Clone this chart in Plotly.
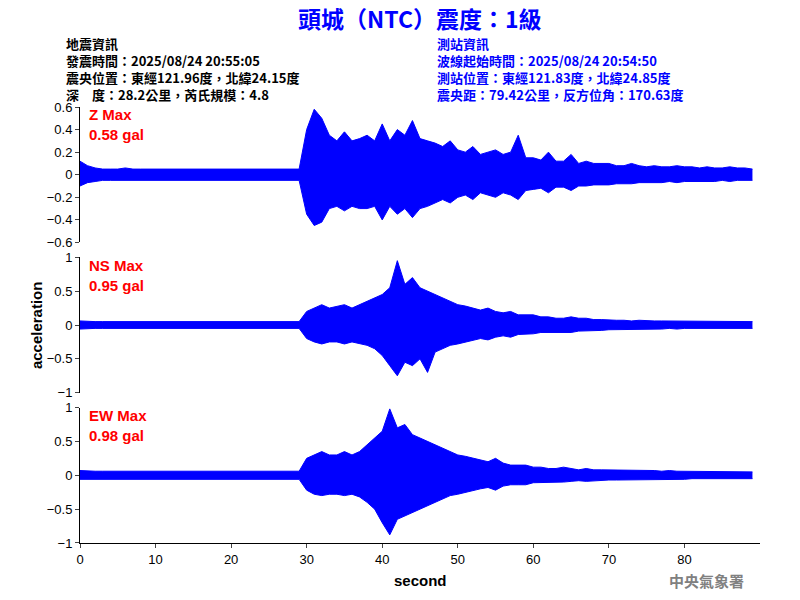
import plotly.graph_objects as go
from plotly.subplots import make_subplots

# envelope of each trace, one value per second (0..89 s)
seconds = list(range(90))
quiet = [0.05] * 20
z_up = [.12, .08, .06, .05, .05, .05, .06, .05, .05, .05] + quiet + \
       [.40, .58, .50, .35, .30, .38, .30, .32, .35, .30,
        .45, .30, .40, .35, .48, .32, .30, .28, .25, .30,
        .22, .20, .25, .18, .20, .22, .18, .20, .35, .15,
        .15, .13, .20, .12, .12, .18, .10, .12, .10, .10,
        .10, .08, .08, .10, .08, .07, .08, .07, .07, .08,
        .07, .07, .06, .07, .06, .06, .07, .06, .06, .05]
z_lo = [.10, .07, .06, .05, .05, .05, .05, .05, .05, .05] + quiet + \
       [.35, .45, .42, .30, .28, .32, .28, .30, .30, .28,
        .40, .28, .35, .30, .38, .30, .28, .25, .22, .25,
        .20, .18, .22, .16, .18, .20, .16, .18, .22, .14,
        .13, .12, .16, .11, .11, .14, .10, .10, .09, .09,
        .09, .08, .08, .08, .07, .07, .07, .07, .06, .07,
        .06, .06, .06, .06, .06, .05, .06, .05, .05, .05]
ns_up = [.06, .05, .05, .05, .05, .05, .05, .05, .05, .05] + quiet + \
        [.20, .25, .30, .25, .28, .30, .25, .30, .35, .40,
         .45, .55, .95, .60, .70, .55, .50, .45, .40, .35,
         .30, .28, .25, .22, .25, .20, .18, .20, .15, .15,
         .15, .12, .12, .10, .10, .12, .10, .10, .08, .08,
         .07, .07, .07, .06, .07, .06, .06, .06, .06, .06,
         .06, .06, .05, .06, .05, .05, .06, .05, .05, .05]
ns_lo = [.06, .05, .05, .05, .05, .05, .05, .05, .05, .05] + quiet + \
        [.20, .25, .28, .25, .25, .28, .25, .28, .30, .35,
         .45, .60, .75, .55, .60, .50, .70, .40, .35, .30,
         .28, .25, .22, .20, .22, .18, .16, .18, .14, .14,
         .13, .11, .11, .10, .10, .11, .09, .09, .08, .08,
         .07, .07, .06, .06, .06, .06, .06, .06, .05, .06,
         .05, .05, .05, .05, .05, .05, .05, .05, .05, .05]
ew_up = [.07, .06, .06, .06, .06, .06, .06, .06, .06, .06] + [0.06] * 20 + \
        [.25, .30, .35, .30, .30, .35, .30, .35, .45, .55,
         .65, .98, .70, .75, .60, .55, .50, .45, .40, .35,
         .30, .28, .25, .22, .20, .25, .18, .15, .15, .15,
         .12, .12, .10, .10, .12, .10, .08, .10, .08, .08,
         .08, .08, .07, .08, .07, .07, .07, .06, .07, .06,
         .06, .06, .06, .06, .05, .06, .05, .05, .05, .05]
ew_lo = [.06, .06, .06, .06, .06, .06, .06, .06, .06, .06] + [0.06] * 20 + \
        [.22, .28, .30, .28, .28, .30, .28, .32, .40, .50,
         .70, .88, .65, .60, .55, .50, .45, .40, .35, .30,
         .28, .25, .22, .20, .18, .22, .16, .14, .14, .14,
         .11, .11, .10, .10, .10, .09, .08, .09, .08, .08,
         .07, .07, .07, .07, .06, .06, .06, .06, .06, .06,
         .06, .05, .05, .05, .05, .05, .05, .05, .05, .05]

panels = [("<b>Z Max<br>0.58 gal</b>", z_up, z_lo, [-0.6, 0.6], [-0.6, -0.4, -0.2, 0, 0.2, 0.4, 0.6]),
          ("<b>NS Max<br>0.95 gal</b>", ns_up, ns_lo, [-1, 1], [-1, -0.5, 0, 0.5, 1]),
          ("<b>EW Max<br>0.98 gal</b>", ew_up, ew_lo, [-1, 1], [-1, -0.5, 0, 0.5, 1])]

fig = make_subplots(rows=3, cols=1, shared_xaxes=True, vertical_spacing=0.034)
font = "Liberation Sans, Arial"
cjk = "Noto Sans CJK TC"
for i, (label, up, lo, rng, ticks) in enumerate(panels, start=1):
    fig.add_trace(go.Scatter(x=seconds, y=up, mode="lines", line=dict(color="blue", width=1)), row=i, col=1)
    fig.add_trace(go.Scatter(x=seconds, y=[-v for v in lo], mode="lines", fill="tonexty",
                             fillcolor="blue", line=dict(color="blue", width=1)), row=i, col=1)
    fig.update_yaxes(range=rng, tickvals=ticks, showline=True, linecolor="black", ticks="outside",
                     ticklen=4, showgrid=False, zeroline=False, row=i, col=1)
    fig.update_xaxes(range=[0, 90], showgrid=False, zeroline=False, row=i, col=1)
    yref = "y domain" if i == 1 else f"y{i} domain"
    fig.add_annotation(text=label, xref="x domain", yref=yref, x=0.01, y=1.02, showarrow=False,
                       xanchor="left", yanchor="top", align="left",
                       font=dict(color="red", size=15, family=font))

fig.update_xaxes(showline=True, linecolor="black", ticks="outside", ticklen=4,
                 tickvals=list(range(0, 90, 10)), row=3, col=1)

fig.add_annotation(text="<b>頭城（NTC）震度：1級</b>", xref="paper", yref="paper", x=0.5, y=1.204,
                   yanchor="middle", showarrow=False, font=dict(color="blue", size=23, family=cjk))
left = "地震資訊<br>發震時間：2025/08/24 20:55:05<br>震央位置：東經121.96度，北緯24.15度<br>深　度：28.2公里，芮氏規模：4.8"
right = "測站資訊<br>波線起始時間：2025/08/24 20:54:50<br>測站位置：東經121.83度，北緯24.85度<br>震央距：79.42公里，反方位角：170.63度"
fig.add_annotation(text=f"<b>{left}</b>", xref="paper", yref="paper", x=-0.024, y=1.172, showarrow=False,
                   align="left", xanchor="left", yanchor="top",
                   font=dict(color="black", size=13, family=cjk))
fig.add_annotation(text=f"<b>{right}</b>", xref="paper", yref="paper", x=0.522, y=1.172, showarrow=False,
                   align="left", xanchor="left", yanchor="top",
                   font=dict(color="blue", size=13, family=cjk))
fig.add_annotation(text="<b>中央氣象署</b>", xref="paper", yref="paper", x=0.98, y=-0.085, yanchor="middle",
                   showarrow=False, xanchor="right", font=dict(color="gray", size=15, family=cjk))
fig.add_annotation(text="<b>second</b>", xref="paper", yref="paper", x=0.5, y=-0.085, yanchor="middle",
                   showarrow=False, font=dict(size=15, family=font, color="black"))
fig.add_annotation(text="<b>acceleration</b>", xref="paper", yref="paper", x=-0.08, y=0.5, textangle=-90,
                   showarrow=False, font=dict(size=15, family=font, color="black"))

fig.update_layout(width=800, height=600, showlegend=False, plot_bgcolor="white", paper_bgcolor="white",
                  margin=dict(l=72, r=48, t=99, b=65), font=dict(family=font, size=13, color="black"))
fig.write_html("out.html")
